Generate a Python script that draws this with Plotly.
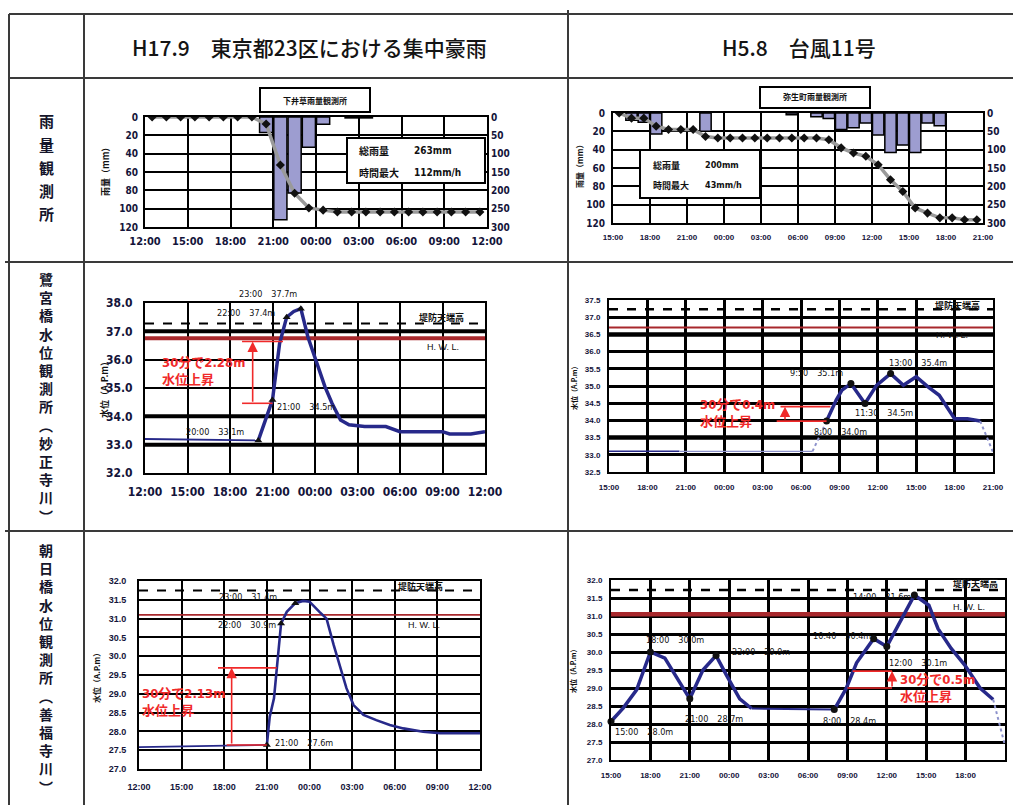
import plotly.graph_objects as go

W, H = 1013, 805

# ---------------- data ----------------
HEADERS = ["H17.9\u3000東京都23区における集中豪雨", "H5.8\u3000台風11号"]
ROW_LABELS = ["雨量観測所", "鷺宮橋水位観測所︵妙正寺川︶", "朝日橋水位観測所︵善福寺川︶"]

TICK_POS_24 = [0, 3, 6, 9, 12, 15, 18, 21, 24]
TICK_TXT_24 = ["12:00", "15:00", "18:00", "21:00", "00:00", "03:00", "06:00", "09:00", "12:00"]
TICK_POS_30 = [0, 3, 6, 9, 12, 15, 18, 21, 24, 27, 30]
TICK_TXT_30 = ["15:00", "18:00", "21:00", "00:00", "03:00", "06:00", "09:00", "12:00", "15:00", "18:00", "21:00"]

RAIN_TICKS = [0, 20, 40, 60, 80, 100, 120]
CUM_TICKS = [0, 50, 100, 150, 200, 250, 300]

# 下井草雨量観測所 (hours after 2005-09-04 12:00)
shi_bar_h = [8, 9, 10, 11, 12, 14, 15]
shi_bar_mm = [17, 112, 83, 33, 8, 1, 1]
shi_cum_h = [0.5, 1.5, 2.5, 3.5, 4.5, 5.5, 6.5, 7.5, 8.5, 9.5, 10.5, 11.5,
             12.5, 13.5, 14.5, 15.5, 16.5, 17.5, 18.5, 19.5, 20.5, 21.5, 22.5, 23.5]
shi_cum_mm = [0, 0, 0, 0, 0, 0, 0, 0, 19, 131, 208, 248,
              254, 259, 259, 259, 259, 259, 259, 259, 259, 259, 259, 259]
shi_stats = ["総雨量", "263mm", "時間最大", "112mm/h"]

# 弥生町雨量観測所 (hours after 1993-08-27 15:00)
yay_bar_h = [1, 2, 3, 7, 14, 16, 17, 18, 19, 20, 21, 22, 23, 24, 25, 26]
yay_bar_mm = [8, 10, 23, 20, 2, 4, 6, 18, 16, 11, 24, 43, 35, 43, 11, 14]
yay_cum_h = [0.5, 1.5, 2.5, 3.5, 4.5, 5.5, 6.5, 7.5, 8.5, 9.5, 10.5, 11.5, 12.5, 13.5, 14.5,
             15.5, 16.5, 17.5, 18.5, 19.5, 20.5, 21.5, 22.5, 23.5, 24.5, 25.5, 26.5, 27.5, 28.5, 29.5]
yay_cum_mm = [0, 14, 14, 36, 45, 45, 45, 64, 68, 68, 68, 68, 68, 68, 68,
              68, 68, 73, 95, 109, 118, 141, 182, 214, 259, 273, 286, 286, 291, 291]
yay_stats = ["総雨量", "200mm", "時間最大", "43mm/h"]

# 鷺宮橋 H17.9 (hours after 12:00)
sag1_base_h = [0, 8]
sag1_base_lv = [33.2, 33.15]
sag1_h = [8, 8.5, 9, 9.5, 10, 10.5, 11, 11.5, 12, 12.7, 13.2, 13.8, 14.4, 15.5, 17, 18, 21, 21.5, 23, 24]
sag1_lv = [33.15, 33.87, 34.58, 36.57, 37.5, 37.7, 37.8, 36.8, 36.1, 35.05, 34.46, 33.87,
           33.7, 33.64, 33.64, 33.46, 33.46, 33.38, 33.38, 33.46]
sag1_mark_h = [8, 9, 10, 11]
sag1_mark_lv = [33.15, 34.58, 37.5, 37.8]
sag1_levee, sag1_hwl = 37.28, 36.76
sag1_thick = [37.0, 34.0, 33.0]

# 鷺宮橋 H5.8 (hours after 15:00)
sag2_thin_h = [0, 5.5]
sag2_thin_lv = [33.1, 33.1]
sag2_faint_h = [5.5, 15.9]
sag2_faint_lv = [33.1, 33.1]
sag2_dot1_h = [15.9, 17.0]
sag2_dot1_lv = [33.1, 33.98]
sag2_h = [17.0, 17.75, 18.2, 18.9, 20.0, 20.9, 22.0, 23.0, 24.0, 24.9, 25.8, 27.0, 28.0, 29.0]
sag2_lv = [33.98, 34.59, 34.88, 35.07, 34.49, 35.02, 35.36, 35.02, 35.27, 34.98, 34.73, 34.05, 34.05, 33.98]
sag2_dot2_h = [29.0, 30.0]
sag2_dot2_lv = [33.98, 33.08]
sag2_mark_h = [17.0, 18.9, 20.0, 22.0]
sag2_mark_lv = [33.98, 35.07, 34.49, 35.36]
sag2_levee, sag2_hwl = 37.23, 36.7
sag2_thick = [36.5, 33.5]

# 朝日橋 H17.9 (hours after 12:00)
asa1_base_h = [0, 9.0]
asa1_base_lv = [27.58, 27.64]
asa1_h = [9.0, 9.2, 9.5, 9.8, 10.0, 10.4, 11.0, 11.55, 12.0, 12.7, 13.2, 13.7, 14.1, 14.6,
          15.1, 15.8, 16.7, 17.65, 18.6, 20.0, 21.2, 24.0]
asa1_lv = [27.64, 28.39, 28.88, 30.12, 30.87, 31.18, 31.41, 31.47, 31.45, 31.18, 31.0, 30.3, 29.77, 29.15,
           28.7, 28.44, 28.3, 28.17, 28.08, 27.99, 27.95, 27.95]
asa1_mark_h = [9.0, 10.0, 11.0]
asa1_mark_lv = [27.64, 30.87, 31.41]
asa1_levee, asa1_hwl = 31.75, 31.1

# 朝日橋 H5.8 (hours after 15:00)
asa2_h1 = [0, 0.94, 1.95, 3.0, 4.1, 5.0, 6.0, 7.0, 8.0, 8.8, 9.8, 10.7]
asa2_lv1 = [28.07, 28.45, 28.95, 30.0, 29.83, 29.28, 28.7, 29.5, 29.9, 29.35, 28.7, 28.43]
asa2_flat_h = [10.7, 17.0]
asa2_flat_lv = [28.43, 28.4]
asa2_h2 = [17.0, 17.9, 18.7, 20.0, 21.0, 22.0, 23.1, 24.2, 24.9, 25.9, 26.95, 28.1, 29.1]
asa2_lv2 = [28.4, 28.98, 29.7, 30.37, 30.15, 30.83, 31.58, 31.3, 30.65, 30.1, 29.63, 29.0, 28.68]
asa2_dot_h = [29.1, 30.0]
asa2_dot_lv = [28.68, 27.4]
asa2_mark_h = [0, 3.0, 6.0, 8.0, 17.0, 20.0, 21.0, 23.1]
asa2_mark_lv = [28.07, 30.0, 28.7, 29.9, 28.4, 30.37, 30.15, 31.58]
asa2_levee, asa2_hwl = 31.72, 31.05

# red "30分で..." brackets: (x_start, x_end, level) and arrow (x, from, to)
sag1_brk = [(6.85, 9.0, 34.46), (6.85, 9.74, 36.64)]
sag1_arrow = (7.6, 34.46, 36.64)
sag2_brk = [(13.4, 17.3, 34.4), (13.1, 17.0, 33.98)]
sag2_arrow = (13.75, 33.98, 34.4)
asa1_brk = [(5.56, 9.69, 29.69), (6.17, 8.99, 27.64)]
asa1_arrow = (6.52, 27.64, 29.69)
asa2_brk = [(18.4, 21.4, 29.47), (18.0, 21.4, 29.0)]
asa2_arrow = (21.4, 29.0, 29.47)

# ---------------- style ----------------
NAVY = "#27298a"
FAINT = "#8d92cc"
RED_LINE = "#a8282c"
RED_TXT = "#f02a2a"
BAR = "#9d9dd0"
NARROW = "Liberation Sans Narrow, Arial Narrow, DejaVu Sans Condensed, Liberation Sans, Noto Sans CJK JP, sans-serif"
WIDE = "Liberation Sans, Arial, Noto Sans CJK JP, sans-serif"
JP = "Noto Sans CJK JP, sans-serif"
TICK_COLOR = "#14143a"

fig = go.Figure()
fig.update_layout(template="none")


def xdom(a, b):
    return [a / W, b / W]


def ydom(top, bottom):
    return [1 - bottom / H, 1 - top / H]


def axname(n):
    return ("x", "y") if n == 1 else (f"x{n}", f"y{n}")


XR = {}


def set_axes(n, px, py, xr, xpos, xtxt, yr, yvals, xfs, yfs, xfam, yfam, gw=2,
             xstand=4, ystand=4, yfmt=None):
    xk = "xaxis" if n == 1 else f"xaxis{n}"
    yk = "yaxis" if n == 1 else f"yaxis{n}"
    xn, yn = axname(n)
    XR[n] = xr
    common = dict(showgrid=True, gridcolor="black", gridwidth=gw, showline=True,
                  linecolor="black", linewidth=2, mirror=True, zeroline=False,
                  ticks="", fixedrange=True, automargin=False)
    fig.update_layout(**{
        xk: dict(domain=xdom(*px), range=xr, anchor=yn, tickvals=xpos, ticktext=xtxt,
                 tickfont=dict(family=xfam, size=xfs, color=TICK_COLOR, weight="bold"),
                 ticklabelstandoff=xstand, **common),
        yk: dict(domain=ydom(*py), range=yr, anchor=xn, tickvals=yvals,
                 tickformat=yfmt,
                 tickfont=dict(family=yfam, size=yfs, color=TICK_COLOR, weight="bold"),
                 ticklabelstandoff=ystand, **common),
    })


P = {
    1: ((145, 487), (117, 227)),
    2: ((613, 983), (113, 223)),
    3: ((145, 485), (303, 473)),
    4: ((609, 993), (300, 472)),
    5: ((139, 480), (581, 769)),
    6: ((611, 1005), (580, 760)),
}

set_axes(1, *P[1], [0, 24], TICK_POS_24, TICK_TXT_24, [120, 0], RAIN_TICKS, 11, 10, NARROW, NARROW,
         xstand=3, ystand=3)
set_axes(2, *P[2], [0, 30], TICK_POS_30, TICK_TXT_30, [120, 0], RAIN_TICKS, 8, 10, WIDE, NARROW,
         xstand=5, ystand=4)
set_axes(3, *P[3], [0, 24], TICK_POS_24, TICK_TXT_24, [32, 38], [32, 33, 34, 35, 36, 37, 38], 12, 12,
         NARROW, NARROW, xstand=7, ystand=8, yfmt=".1f")
set_axes(4, *P[4], [0, 30], TICK_POS_30, TICK_TXT_30, [32.5, 37.5],
         [32.5, 33, 33.5, 34, 34.5, 35, 35.5, 36, 36.5, 37, 37.5], 8, 8, WIDE, WIDE, gw=2.5,
         xstand=6, ystand=5, yfmt=".1f")
set_axes(5, *P[5], [0, 24], TICK_POS_24, TICK_TXT_24, [27, 32],
         [27, 27.5, 28, 28.5, 29, 29.5, 30, 30.5, 31, 31.5, 32], 9, 9, WIDE, WIDE, gw=1.8,
         xstand=8, ystand=9, yfmt=".1f")
set_axes(6, *P[6], [0, 30], TICK_POS_30, TICK_TXT_30, [27, 32],
         [27, 27.5, 28, 28.5, 29, 29.5, 30, 30.5, 31, 31.5, 32], 8, 8, WIDE, WIDE, gw=2.5,
         xstand=6, ystand=5, yfmt=".1f")

for key, over, anc in (("yaxis7", "y", "x"), ("yaxis8", "y2", "x2")):
    fig.update_layout(**{key: dict(overlaying=over, anchor=anc, side="right", range=[300, 0],
                                   tickvals=CUM_TICKS, showgrid=False, zeroline=False, ticks="",
                                   showline=False, fixedrange=True, ticklabelstandoff=3, automargin=False,
                                   tickfont=dict(family=NARROW, size=10, color=TICK_COLOR, weight="bold"))})

# ---------------- rain traces ----------------
for (bh, bmm, ch, cmm, xn, yn, yc) in (
        (shi_bar_h, shi_bar_mm, shi_cum_h, shi_cum_mm, "x", "y", "y7"),
        (yay_bar_h, yay_bar_mm, yay_cum_h, yay_cum_mm, "x2", "y2", "y8")):
    fig.add_trace(go.Bar(x=bh, y=bmm, offset=0.04, width=0.92, xaxis=xn, yaxis=yn,
                         marker=dict(color=BAR, line=dict(color="black", width=1.5))))
    fig.add_trace(go.Scatter(x=ch, y=cmm, xaxis=xn, yaxis=yc, mode="lines+markers",
                             line=dict(color="#9a9a9a", width=3.5),
                             marker=dict(symbol="diamond", size=7, color="#111111")))


# ---------------- water level traces ----------------
def line(n, xs, ys, color=NAVY, width=3.5, dash="solid"):
    xn, yn = axname(n)
    fig.add_trace(go.Scatter(x=xs, y=ys, xaxis=xn, yaxis=yn, mode="lines",
                             line=dict(color=color, width=width, dash=dash)))


def marks(n, xs, ys, symbol="diamond"):
    xn, yn = axname(n)
    fig.add_trace(go.Scatter(x=xs, y=ys, xaxis=xn, yaxis=yn, mode="markers", cliponaxis=False,
                             marker=dict(symbol=symbol, size=7, color="#111111")))


def hline(n, y, color, width, dash="solid"):
    line(n, XR[n], [y, y], color=color, width=width, dash=dash)


def bracket(n, brk, arrow):
    xn, yn = axname(n)
    for x0, x1, yv in brk:
        line(n, [x0, x1], [yv, yv], color=RED_TXT, width=1.6)
    ax, y0, y1 = arrow
    fig.add_annotation(xref=xn, yref=yn, axref=xn, ayref=yn, x=ax, y=y1, ax=ax, ay=y0, text="",
                       showarrow=True, arrowhead=2, arrowsize=1.3, arrowwidth=1.6, arrowcolor=RED_TXT)


# mid-left
hline(3, sag1_levee, "black", 2, "dash")
for v in sag1_thick:
    hline(3, v, "black", 4)
hline(3, sag1_hwl, RED_LINE, 4)
line(3, sag1_base_h, sag1_base_lv, width=1.8)
line(3, sag1_h, sag1_lv, width=3.5)
marks(3, sag1_mark_h, sag1_mark_lv, "triangle-up")
bracket(3, sag1_brk, sag1_arrow)

# mid-right
hline(4, sag2_levee, "black", 2.5, "dash")
for v in sag2_thick:
    hline(4, v, "black", 4.5)
hline(4, sag2_hwl, RED_LINE, 1.8)
line(4, sag2_thin_h, sag2_thin_lv, width=1.5)
line(4, sag2_faint_h, sag2_faint_lv, color=FAINT, width=1.2)
line(4, sag2_dot1_h, sag2_dot1_lv, color=FAINT, width=2, dash="dot")
line(4, sag2_h, sag2_lv, width=3.5)
line(4, sag2_dot2_h, sag2_dot2_lv, color=FAINT, width=2, dash="dot")
marks(4, sag2_mark_h, sag2_mark_lv, "circle")
bracket(4, sag2_brk, sag2_arrow)

# bottom-left
hline(5, asa1_levee, "black", 2, "dash")
hline(5, asa1_hwl, RED_LINE, 1.8)
line(5, asa1_base_h, asa1_base_lv, width=1.8)
line(5, asa1_h, asa1_lv, width=2.6)
marks(5, asa1_mark_h, asa1_mark_lv, "triangle-up")
bracket(5, asa1_brk, asa1_arrow)

# bottom-right
hline(6, asa2_levee, "black", 2.5, "dash")
hline(6, asa2_hwl, RED_LINE, 4.5)
line(6, asa2_h1, asa2_lv1, width=3.5)
line(6, asa2_flat_h, asa2_flat_lv, width=2)
line(6, asa2_h2, asa2_lv2, width=3.5)
line(6, asa2_dot_h, asa2_dot_lv, color=FAINT, width=2, dash="dot")
marks(6, asa2_mark_h, asa2_mark_lv, "circle")
bracket(6, asa2_brk, asa2_arrow)


# ---------------- texts ----------------
def txt(x, y, text, size=9, color="#111111", family=WIDE, bold=False, xanchor="center",
        angle=0, align="center", weight=None):
    f = dict(family=family, size=size, color=color)
    if weight is not None:
        f["weight"] = weight
    fig.add_annotation(xref="paper", yref="paper", x=x / W, y=1 - y / H, showarrow=False,
                       text=f"<b>{text}</b>" if bold else text, textangle=angle, align=align,
                       font=f, xanchor=xanchor, yanchor="middle")


def rect(x0, y0, x1, y1, lw=2):
    fig.add_shape(type="rect", xref="paper", yref="paper", x0=x0 / W, x1=x1 / W,
                  y0=1 - y1 / H, y1=1 - y0 / H, line=dict(color="black", width=lw),
                  fillcolor="white", layer="above")


# table grid
TABLE = "#3a3a3a"
for y, x0 in ((14, 9), (78, 9), (262, 5), (531, 5)):
    fig.add_shape(type="line", xref="paper", yref="paper", x0=x0 / W, x1=1, y0=1 - y / H, y1=1 - y / H,
                  line=dict(color=TABLE, width=2), layer="above")
for x, y0 in ((9, 14), (84, 14), (568, 10)):
    fig.add_shape(type="line", xref="paper", yref="paper", x0=x / W, x1=x / W, y0=0, y1=1 - y0 / H,
                  line=dict(color=TABLE, width=2), layer="above")

txt(309, 47, HEADERS[0], size=21, family=JP, color="#141414", weight=500)
txt(799, 47, HEADERS[1], size=21, family=JP, color="#141414", weight=500)

# row headers (vertical)
for i, ch in enumerate(ROW_LABELS[0]):
    txt(46, 121 + i * 23, ch, size=15, family=JP, bold=True, color="#15152a")
for label, yc in zip(ROW_LABELS[1:], (397, 668)):
    txt(46, yc, "<br>".join(label), size=14, family=JP, bold=True, color="#15152a")

# rain boxes
rect(260, 88, 370, 112)
txt(315, 100, "下井草雨量観測所", size=8, family=JP, bold=True)
rect(347, 138, 485, 183)
txt(357, 151, shi_stats[0], size=10, family=JP, bold=True, xanchor="left")
txt(412, 151, shi_stats[1], size=10, family=NARROW, bold=True, xanchor="left")
txt(357, 172, shi_stats[2], size=10, family=JP, bold=True, xanchor="left")
txt(412, 172, shi_stats[3], size=10, family=NARROW, bold=True, xanchor="left")
txt(106, 170, "雨量（mm）", size=9, family=JP, bold=True, angle=-90)

rect(760, 87, 870, 108)
txt(815, 97, "弥生町雨量観測所", size=8, family=JP, bold=True)
rect(640, 150, 760, 198)
txt(651, 165, yay_stats[0], size=9, family=JP, bold=True, xanchor="left")
txt(703, 165, yay_stats[1], size=9, family=NARROW, bold=True, xanchor="left")
txt(651, 185, yay_stats[2], size=9, family=JP, bold=True, xanchor="left")
txt(703, 185, yay_stats[3], size=9, family=NARROW, bold=True, xanchor="left")
txt(579, 165, "雨量（mm）", size=8, family=JP, bold=True, angle=-90)

# mid-left labels
txt(104, 388, "水位（A.P.m）", size=9, family=JP, bold=True, angle=-90)
txt(268, 294, "23:00\u300037.7m", size=9, family=NARROW)
txt(246, 313, "22:00\u300037.4m", size=9, family=NARROW)
txt(306, 407, "21:00\u300034.5m", size=9, family=NARROW)
txt(215, 432, "20:00\u300033.1m", size=9, family=NARROW)
txt(441, 317, "堤防天端高", size=9, family=JP, bold=True)
txt(443, 347, "H. W. L.", size=9, family=WIDE)
txt(160, 371, "30分で2.28m<br>水位上昇", size=13, family=NARROW, bold=True, color=RED_TXT,
    xanchor="left", align="left")

# mid-right labels
txt(574, 387, "水位（A.P.m）", size=7, family=JP, bold=True, angle=-90)
txt(840, 432, "8:00\u300034.0m", size=9, family=NARROW)
txt(816, 373, "9:50\u300035.1m", size=9, family=NARROW)
txt(884, 413, "11:30\u300034.5m", size=9, family=NARROW)
txt(918, 363, "13:00\u300035.4m", size=9, family=NARROW)
txt(957, 306, "堤防天端高", size=9, family=JP, bold=True)
txt(952, 335, "H. W. L.", size=9, family=WIDE)
txt(698, 413, "30分で0.4m<br>水位上昇", size=13, family=NARROW, bold=True, color=RED_TXT,
    xanchor="left", align="left")

# bottom-left labels
txt(96, 676, "水位（A.P.m）", size=8, family=JP, bold=True, angle=-90)
txt(248, 597, "23:00\u300031.4m", size=9, family=NARROW)
txt(247, 625, "22:00\u300030.9m", size=9, family=NARROW)
txt(304, 743, "21:00\u300027.6m", size=9, family=NARROW)
txt(420, 586, "堤防天端高", size=9, family=JP, bold=True)
txt(424, 625, "H. W. L.", size=9, family=WIDE)
txt(140, 702, "30分で2.13m<br>水位上昇", size=13, family=NARROW, bold=True, color=RED_TXT,
    xanchor="left", align="left")

# bottom-right labels
txt(573, 670, "水位（A.P.m）", size=7, family=JP, bold=True, angle=-90)
txt(644, 732, "15:00\u300028.0m", size=9, family=NARROW)
txt(675, 640, "18:00\u300030.0m", size=9, family=NARROW)
txt(714, 719, "21:00\u300028.7m", size=9, family=NARROW)
txt(761, 652, "23:00\u300029.9m", size=9, family=NARROW)
txt(849, 721, "8:00\u300028.4m", size=9, family=NARROW)
txt(842, 636, "10:40\u300030.4m", size=9, family=NARROW)
txt(918, 663, "12:00\u300030.1m", size=9, family=NARROW)
txt(882, 597, "14:00\u300031.6m", size=9, family=NARROW)
txt(975, 583, "堤防天端高", size=9, family=JP, bold=True)
txt(969, 607, "H. W. L.", size=9, family=WIDE)
txt(898, 688, "30分で0.5m<br>水位上昇", size=13, family=NARROW, bold=True, color=RED_TXT,
    xanchor="left", align="left")

fig.update_layout(width=W, height=H, margin=dict(l=0, r=0, t=0, b=0, pad=0, autoexpand=False),
                  paper_bgcolor="white", plot_bgcolor="white", showlegend=False,
                  barmode="overlay")

fig.write_html("out.html")
